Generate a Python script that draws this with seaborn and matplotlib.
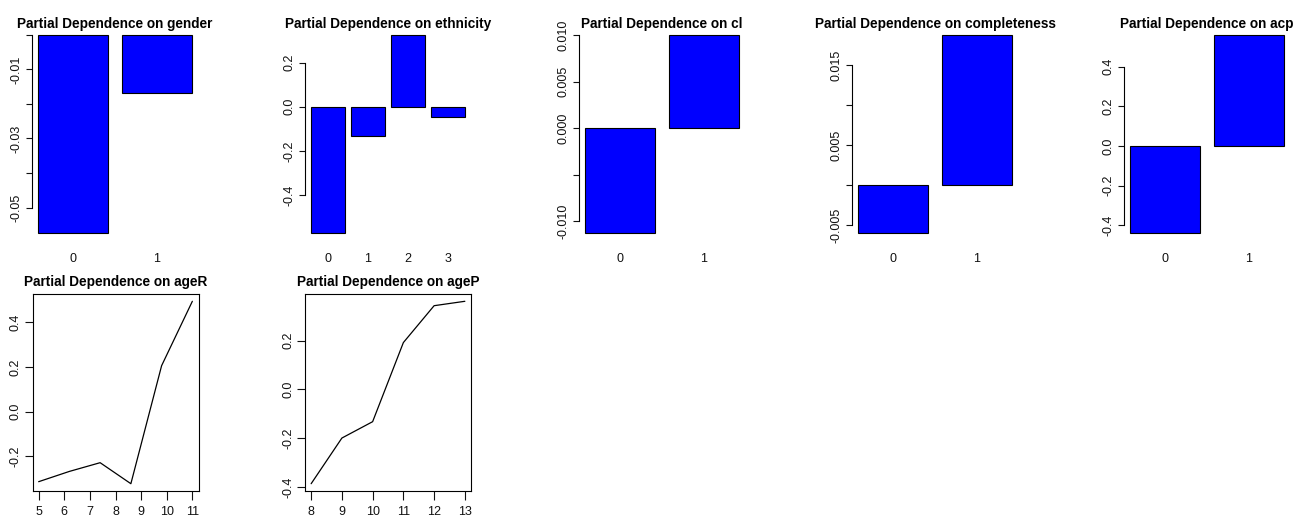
import numpy as np
import pandas as pd
import seaborn as sns
import matplotlib.pyplot as plt

# -------------------------------------------------------------------
# valores (partial dependence)
# -------------------------------------------------------------------
gender_levels = ["0", "1"]
gender_pd = [-0.0574, -0.0168]

ethnicity_levels = ["0", "1", "2", "3"]
ethnicity_pd = [-0.571, -0.131, 0.325, -0.045]

cl_levels = ["0", "1"]
cl_pd = [-0.01125, 0.0100]

completeness_levels = ["0", "1"]
completeness_pd = [-0.0060, 0.0188]

acp_levels = ["0", "1"]
acp_pd = [-0.440, 0.560]

ageR_x = [5.0, 6.2, 7.4, 8.6, 9.8, 11.0]
ageR_pd = [-0.313, -0.267, -0.228, -0.322, 0.206, 0.494]

ageP_x = [8, 9, 10, 11, 12, 13]
ageP_pd = [-0.386, -0.199, -0.132, 0.192, 0.343, 0.361]

# ticks do eixo y (rotulos vazios = R escondeu por sobreposicao)
gender_yt = [-0.05, -0.04, -0.03, -0.02, -0.01, 0.0]
gender_yl = ["-0.05", "", "-0.03", "", "-0.01", ""]
ethnicity_yt = [-0.4, -0.2, 0.0, 0.2]
ethnicity_yl = ["-0.4", "-0.2", "0.0", "0.2"]
cl_yt = [-0.010, -0.005, 0.0, 0.005, 0.010]
cl_yl = ["-0.010", "", "0.000", "0.005", "0.010"]
completeness_yt = [-0.005, 0.0, 0.005, 0.010, 0.015]
completeness_yl = ["-0.005", "", "0.005", "", "0.015"]
acp_yt = [-0.4, -0.2, 0.0, 0.2, 0.4]
acp_yl = ["-0.4", "-0.2", "0.0", "0.2", "0.4"]
ageR_yt = [-0.2, 0.0, 0.2, 0.4]
ageP_yt = [-0.4, -0.2, 0.0, 0.2]

sns.set_theme(style="ticks")
plt.rcParams['font.family'] = ['Liberation Sans', 'DejaVu Sans']
plt.rcParams['axes.linewidth'] = 0.8

W, H = 1309, 520
TICK_FS = 9
fig = plt.figure(figsize=(W / 100, H / 100), dpi=100)


def px_axes(left, top, width, height):
    return fig.add_axes([left / W, (H - top - height) / H, width / W, height / H])


def r_range(vals):
    # mesmo alargamento de 4% que o R usa
    lo, hi = min(vals), max(vals)
    pad = 0.04 * (hi - lo)
    return lo - pad, hi + pad


def title(ax, text, baseline_px):
    pos = ax.get_position()
    fig.text(pos.x0 + pos.width / 2, (H - baseline_px) / H, text,
             ha='center', va='baseline', fontsize=9.8,
             fontweight='bold', color='black')


def bar_panel(left, levels, vals, yt, yl, name):
    ax = px_axes(left, 27, 166, 214)
    w = 1 / 1.2
    sns.barplot(x=levels, y=vals, ax=ax, color='#0000FF', saturation=1,
                edgecolor='black', linewidth=0.8, width=w, errorbar=None)
    n = len(levels)
    r = n - 1 + w
    ax.set_xlim(-w / 2 - 0.04 * r, n - 1 + w / 2 + 0.04 * r)
    ax.set_ylim(*r_range(list(vals) + [0]))
    ax.set_yticks(yt)
    ax.set_yticklabels(yl, rotation=90, va='center', fontsize=TICK_FS)
    for s in ['top', 'right', 'bottom']:
        ax.spines[s].set_visible(False)
    ax.spines['left'].set_bounds(min(yt), max(yt))
    ax.spines['left'].set_color('black')
    ax.tick_params(axis='x', length=0, pad=8.5, labelsize=TICK_FS, colors='#111111')
    ax.tick_params(axis='y', length=4.5, width=0.8, pad=2.2, colors='#111111')
    ax.set_xlabel('')
    ax.set_ylabel('')
    title(ax, 'Partial Dependence on ' + name, 27.7)
    return ax


def line_panel(left, xs, ys, yt, name):
    ax = px_axes(left, 294, 166, 197)
    sns.lineplot(x=xs, y=ys, ax=ax, color='black', linewidth=0.9)
    ax.set_xlim(*r_range(xs))
    ax.set_ylim(*r_range(ys))
    ax.set_xticks(range(int(min(xs)), int(max(xs)) + 1))
    ax.set_yticks(yt)
    ax.set_yticklabels([f"{v:.1f}" for v in yt], rotation=90, va='center',
                       fontsize=TICK_FS)
    for s in ax.spines.values():
        s.set_color('black')
    ax.tick_params(axis='x', length=6.5, width=0.8, pad=4.5, labelsize=TICK_FS,
                   colors='#111111')
    ax.tick_params(axis='y', length=5.5, width=0.8, pad=2.2, colors='#111111')
    ax.set_xlabel('')
    ax.set_ylabel('')
    title(ax, 'Partial Dependence on ' + name, 286)
    return ax


bar_panel(32, gender_levels, gender_pd, gender_yt, gender_yl, 'gender')
bar_panel(305, ethnicity_levels, ethnicity_pd, ethnicity_yt, ethnicity_yl, 'ethnicity')
bar_panel(579, cl_levels, cl_pd, cl_yt, cl_yl, 'cl')
bar_panel(852, completeness_levels, completeness_pd, completeness_yt,
          completeness_yl, 'completeness')
bar_panel(1124, acp_levels, acp_pd, acp_yt, acp_yl, 'acp')

line_panel(32.5, ageR_x, ageR_pd, ageR_yt, 'ageR')
line_panel(305, ageP_x, ageP_pd, ageP_yt, 'ageP')

fig.savefig('out.png', dpi=100)
